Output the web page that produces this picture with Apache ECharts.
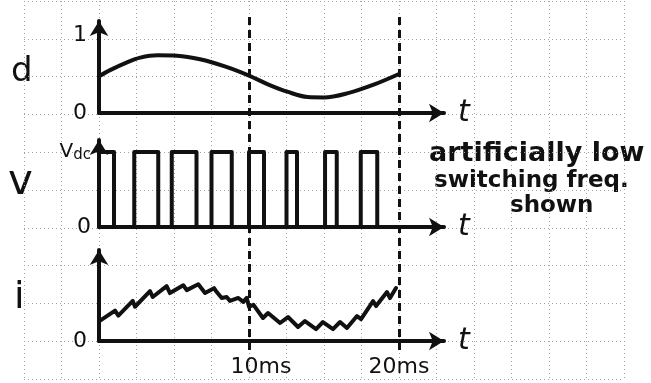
<!DOCTYPE html>
<html>
<head>
<meta charset="utf-8">
<script src="https://cdn.jsdelivr.net/npm/echarts@6/dist/echarts.min.js"></script>
<style>
html,body{margin:0;padding:0;background:#fff;}
#chart{width:651px;height:383px;}
</style>
</head>
<body>
<div id="chart"></div>
<script>
// duty ratio d(t), t in ms
const dTime  = [0, 0.74, 1.87, 2.75, 3.9, 5.2, 6.73, 8.44, 10, 11.3, 12.6, 13.9, 15, 16.6, 18.4, 20];
const dValue = [0.47, 0.55, 0.65, 0.71, 0.74, 0.735, 0.69, 0.595, 0.48, 0.365, 0.27, 0.205, 0.2, 0.255, 0.37, 0.5];

// switching pulses of v (on / off instants, ms), level Vdc = 1
const pulseOn  = [0, 2.35, 4.85, 7.5, 10.0, 12.5, 15.07, 17.45];
const pulseOff = [1.0, 3.95, 6.5, 8.85, 11.0, 13.2, 15.85, 18.55];
const vEnd = 20;

// inductor current i(t), arbitrary units
const iTime  = [0, 1.07, 1.29, 2.25, 2.4, 3.4, 3.58, 4.51, 4.73, 5.62, 5.85, 6.62, 7.07, 7.67, 7.85, 8.18, 8.51, 8.73, 9.29, 9.62, 9.85, 10.0, 10.3, 10.93, 11.27, 12.07, 12.6, 13.27, 13.73, 14.47, 14.93, 15.6, 16.07, 16.53, 17.2, 17.47, 18.27, 18.47, 19.2, 19.4, 19.8];
const iValue = [0.20, 0.31, 0.26, 0.41, 0.35, 0.51, 0.45, 0.56, 0.49, 0.57, 0.52, 0.58, 0.49, 0.54, 0.50, 0.44, 0.45, 0.41, 0.44, 0.40, 0.44, 0.35, 0.37, 0.235, 0.286, 0.184, 0.245, 0.143, 0.204, 0.122, 0.194, 0.122, 0.194, 0.133, 0.255, 0.224, 0.408, 0.357, 0.50, 0.439, 0.541];

// time markers and their labels
const markTimes = [10, 20];
const markLabels = ['10ms', '20ms'];

const dData = dTime.map((t, k) => [t, dValue[k]]);
const vData = [];
pulseOn.forEach((on, k) => {
  vData.push([on, 0], [on, 1], [pulseOff[k], 1], [pulseOff[k], 0]);
});
vData.push([vEnd, 0]);
const iData = iTime.map((t, k) => [t, iValue[k]]);

const INK = '#111';
const FONT = 'DejaVu Sans';

function panelX(idx, showLabels) {
  return {
    type: 'value', gridIndex: idx, min: 0, max: 23,
    axisLine: { show: true, lineStyle: { color: INK, width: 4 }, symbol: ['none', 'arrow'], symbolSize: [14, 15] },
    axisTick: showLabels ? { show: true, customValues: markTimes, length: 7, inside: false, lineStyle: { color: INK, width: 2.5 } } : { show: false },
    axisLabel: showLabels ? {
      show: true, customValues: markTimes, margin: 15,
      formatter: v => { const s = markLabels[markTimes.indexOf(v)]; return v === 10 ? '{o|' + s + '}' : '{n|' + s + '}'; },
      rich: {
        o: { fontSize: 22, color: INK, fontFamily: FONT, padding: [0, 0, 0, 24] },
        n: { fontSize: 22, color: INK, fontFamily: FONT }
      }
    } : { show: false },
    splitLine: { show: false },
    name: 't', nameLocation: 'end', nameGap: 14,
    nameTextStyle: { fontSize: 30, fontStyle: 'italic', color: INK, fontFamily: FONT, verticalAlign: 'middle' }
  };
}

function panelY(idx, max, values, fmt, margin) {
  return {
    type: 'value', gridIndex: idx, min: 0, max: max,
    axisLine: { show: true, onZero: false, lineStyle: { color: INK, width: 4 }, symbol: ['none', 'arrow'], symbolSize: [14, 15] },
    axisTick: { show: false },
    axisLabel: { show: true, customValues: values, formatter: fmt, margin: margin, fontSize: 22, color: INK, fontFamily: FONT },
    splitLine: { show: false }
  };
}

const option = {
  animation: false,
  backgroundColor: '#fff',
  grid: [
    { left: 24, top: 1, width: 600, height: 378, outerBoundsMode: 'none' },
    { left: 99, top: 21, width: 345, height: 92, outerBoundsMode: 'none' },
    { left: 99, top: 140, width: 345, height: 87, outerBoundsMode: 'none' },
    { left: 99, top: 250, width: 345, height: 91, outerBoundsMode: 'none' },
    { left: 99, top: 14, width: 345, height: 336, outerBoundsMode: 'none' }
  ],
  xAxis: [
    { type: 'value', gridIndex: 0, min: 0, max: 600, interval: 37.5,
      axisLine: { show: false }, axisTick: { show: false }, axisLabel: { show: false },
      splitLine: { show: true, showMinLine: true, showMaxLine: true, lineStyle: { color: '#a3a3a3', type: [1, 3], width: 1 } } },
    panelX(1, false),
    panelX(2, false),
    panelX(3, true),
    { type: 'value', gridIndex: 4, min: 0, max: 23, show: false }
  ],
  yAxis: [
    { type: 'value', gridIndex: 0, min: 0, max: 378, interval: 37.8, inverse: true,
      axisLine: { show: false }, axisTick: { show: false }, axisLabel: { show: false },
      splitLine: { show: true, showMinLine: true, showMaxLine: true, lineStyle: { color: '#a3a3a3', type: [1, 3], width: 1 } } },
    panelY(1, 1.18, [0, 1], v => String(v), 12),
    panelY(2, 1.16, [0, 1], v => v === 1 ? '{a|V}{b|dc}' : '0', 8),
    panelY(3, 0.93, [0], v => '0', 12),
    { type: 'value', gridIndex: 4, min: 0, max: 1, show: false }
  ],
  series: [
    { type: 'line', xAxisIndex: 1, yAxisIndex: 1, data: dData, smooth: 0.35, showSymbol: false,
      lineStyle: { color: INK, width: 4, cap: 'round' }, silent: true },
    { type: 'line', xAxisIndex: 2, yAxisIndex: 2, data: vData, showSymbol: false,
      lineStyle: { color: INK, width: 4, join: 'round' }, silent: true },
    { type: 'line', xAxisIndex: 3, yAxisIndex: 3, data: iData, showSymbol: false,
      lineStyle: { color: INK, width: 4, join: 'round', cap: 'round' }, silent: true },
    { type: 'line', xAxisIndex: 4, yAxisIndex: 4, data: [], silent: true,
      markLine: { silent: true, symbol: ['none', 'none'], label: { show: false },
        lineStyle: { color: INK, width: 3, type: [8, 5] },
        data: markTimes.map(t => ({ xAxis: t })) } }
  ],
  graphic: [
    { type: 'text', left: 11, top: 55, style: { text: 'd', fill: INK, font: '34px DejaVu Sans' } },
    { type: 'text', left: 8, top: 162, style: { text: 'v', fill: INK, font: '42px DejaVu Sans' } },
    { type: 'text', left: 14, top: 279, style: { text: 'i', fill: INK, font: '38px DejaVu Sans' } },
    { type: 'text', left: 429, top: 140, style: { text: 'artificially low', fill: INK, font: 'bold 27px DejaVu Sans' } },
    { type: 'text', left: 434, top: 170, style: { text: 'switching freq.', fill: INK, font: 'bold 23px DejaVu Sans' } },
    { type: 'text', left: 510, top: 195, style: { text: 'shown', fill: INK, font: 'bold 23px DejaVu Sans' } }
  ]
};
option.yAxis[2].axisLabel.rich = {
  a: { fontSize: 20, color: INK, fontFamily: FONT },
  b: { fontSize: 15, color: INK, fontFamily: FONT, verticalAlign: 'bottom', padding: [6, 0, 0, 0] }
};

const chart = echarts.init(document.getElementById('chart'), null, { renderer: 'canvas' });
chart.setOption(option);
</script>
</body>
</html>
